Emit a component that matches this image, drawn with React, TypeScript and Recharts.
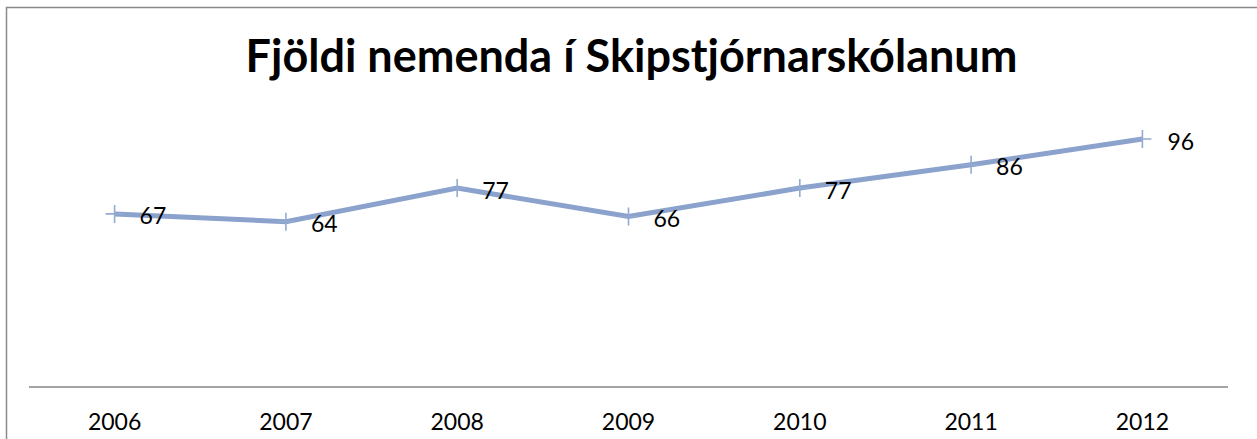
import React from "react";
import { LineChart, Line, XAxis, YAxis, LabelList } from "recharts";

const years = ["2006", "2007", "2008", "2009", "2010", "2011", "2012"];
const students = [67, 64, 77, 66, 77, 86, 96];
const yDomain = [0, 120];
const title = "Fjöldi nemenda í Skipstjórnarskólanum";

const data = years.map((y, i) => ({ year: y, value: students[i] }));

const LINE = "#8aa2cc";
const MARK = "#93aad2";
const FONT = "Lato, 'Open Sans', sans-serif";

const PlusDot = (props: any) => {
  const { cx, cy, index } = props;
  if (cx == null || cy == null) return null;
  return (
    <path
      key={`dot-${index}`}
      d={`M${cx - 9},${cy} h18 M${cx},${cy - 9} v18`}
      stroke={MARK}
      strokeWidth={1.6}
      fill="none"
    />
  );
};

const ValueLabel = (props: any) => {
  const { x, y, value, index } = props;
  return (
    <text
      key={`lbl-${index}`}
      x={x + 25}
      y={y + 1.5}
      dominantBaseline="central"
      textAnchor="start"
      fontFamily={FONT}
      fontSize={23}
      fill="#000"
    >
      {value}
    </text>
  );
};

const YearTick = (props: any) => {
  const { x, y, payload } = props;
  return (
    <text
      x={x}
      y={y + 43}
      textAnchor="middle"
      fontFamily={FONT}
      fontSize={23}
      fill="#000"
    >
      {payload.value}
    </text>
  );
};

export default function App() {
  return (
    <div
      style={{
        position: "fixed",
        left: 0,
        top: 0,
        width: 1257,
        height: 439,
        overflow: "hidden",
        background: "#fff",
      }}
    >
      <svg
        width={1257}
        height={439}
        style={{ position: "absolute", left: 0, top: 0, display: "block" }}
      >
        <path d="M6.5,470 V7.5 H1300" stroke="#8a8a8a" strokeWidth={1.5} fill="none" />
        <text
          x={631.5}
          y={72}
          textAnchor="middle"
          fontFamily={FONT}
          fontWeight="bold"
          fontSize={45}
          fill="#000"
        >
          {title}
        </text>
      </svg>
      <div style={{ position: "absolute", left: 0, top: 0, width: 1257, height: 439 }}>
        <LineChart
          width={1257}
          height={439}
          data={data}
          margin={{ top: 77, right: 29, left: 29, bottom: 12 }}
          style={{ display: "block" }}
          accessibilityLayer={false}
        >
          <XAxis
            dataKey="year"
            height={40}
            tickLine={false}
            tickSize={0}
            tickMargin={0}
            axisLine={{ stroke: "#868686", strokeWidth: 1.5 }}
            padding={{ left: 85.6, right: 85.6 }}
            tick={<YearTick />}
            interval={0}
          />
          <YAxis hide domain={yDomain} />
          <Line
            dataKey="value"
            stroke={LINE}
            strokeWidth={5}
            dot={<PlusDot />}
            activeDot={false}
            isAnimationActive={false}
          >
            <LabelList dataKey="value" content={<ValueLabel />} />
          </Line>
        </LineChart>
      </div>
    </div>
  );
}
